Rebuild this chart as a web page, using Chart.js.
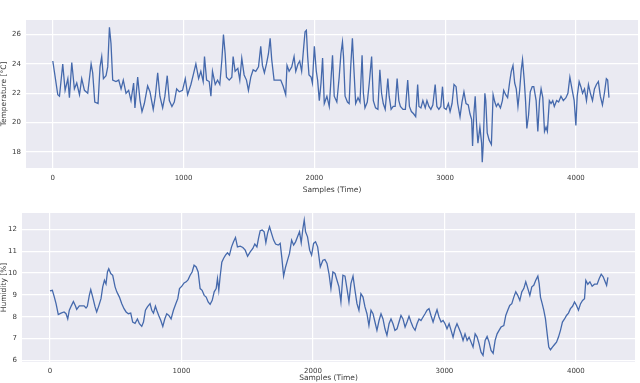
<!DOCTYPE html>
<html>
<head>
<meta charset="utf-8">
<script src="https://cdn.jsdelivr.net/npm/chart.js@4"></script>
<style>
    html, body { margin: 0; padding: 0; background: #fff; }
    body { width: 640px; height: 383px; position: relative; overflow: hidden; }
    canvas { position: absolute; left: 0; }
    #tempChart { top: 0; }
    #humChart { top: 195px; }
</style>
</head>
<body>
<canvas id="tempChart" width="640" height="195"></canvas>
<canvas id="humChart" width="640" height="188"></canvas>
<script>
// Temperature series (sample index, value in °C)
const tempSamples = [0, 38, 51, 76, 94, 115, 127, 145, 165, 183, 204, 221, 242, 267, 293, 305, 321, 346, 361, 374,
    387, 407, 420, 433, 445, 458, 483, 504, 522, 539, 560, 580, 598, 618, 628, 649, 667, 682, 700, 725,
    743, 768, 784, 802, 819, 840, 857, 875, 891, 911, 929, 947, 967, 992, 1013, 1031, 1056, 1074, 1094, 1115,
    1132, 1150, 1160, 1176, 1196, 1209, 1221, 1242, 1260, 1277, 1293, 1305, 1318, 1328, 1349, 1369, 1379, 1394, 1415, 1430,
    1445, 1463, 1481, 1496, 1514, 1532, 1552, 1573, 1590, 1603, 1618, 1634, 1649, 1662, 1674, 1692, 1718, 1743, 1761, 1781,
    1791, 1807, 1827, 1845, 1858, 1875, 1888, 1903, 1919, 1929, 1939, 1949, 1959, 1975, 1985, 2000, 2015, 2025, 2038, 2051,
    2063, 2076, 2096, 2114, 2127, 2139, 2152, 2172, 2190, 2203, 2215, 2223, 2235, 2253, 2266, 2278, 2291, 2304, 2316, 2334,
    2349, 2365, 2375, 2387, 2405, 2420, 2438, 2451, 2468, 2486, 2501, 2514, 2527, 2542, 2562, 2572, 2587, 2603, 2618, 2633,
    2646, 2658, 2678, 2696, 2714, 2727, 2742, 2759, 2775, 2790, 2800, 2815, 2830, 2848, 2861, 2876, 2891, 2906, 2924, 2937,
    2952, 2967, 2980, 2992, 3008, 3025, 3038, 3053, 3068, 3084, 3096, 3114, 3129, 3144, 3160, 3177, 3190, 3203, 3210, 3220,
    3230, 3241, 3251, 3266, 3279, 3284, 3291, 3304, 3311, 3322, 3337, 3354, 3367, 3380, 3392, 3405, 3423, 3438, 3448, 3463,
    3478, 3494, 3506, 3519, 3532, 3544, 3557, 3570, 3582, 3592, 3605, 3615, 3625, 3638, 3651, 3666, 3678, 3696, 3709, 3722,
    3734, 3747, 3760, 3772, 3782, 3797, 3810, 3823, 3835, 3853, 3868, 3886, 3904, 3924, 3939, 3954, 3970, 3987, 4000, 4010,
    4025, 4038, 4051, 4066, 4081, 4096, 4111, 4127, 4142, 4157, 4172, 4187, 4203, 4218, 4233, 4243, 4253];
const tempValues = [24.2, 21.9, 21.8, 24.0, 22.2, 23.0, 21.7, 24.1, 22.3, 22.7, 21.9, 23.0, 22.2, 22.0, 24.0, 23.4, 21.4, 21.3, 23.8, 24.5,
    23.0, 23.2, 23.8, 26.5, 25.4, 22.9, 22.8, 22.9, 22.3, 22.9, 22.0, 22.2, 21.5, 22.7, 21.0, 23.1, 21.5, 20.75, 21.3, 22.5,
    22.1, 20.9, 21.8, 23.4, 21.8, 21.0, 21.8, 23.2, 21.5, 21.1, 21.4, 22.3, 22.1, 22.2, 23.0, 21.9, 22.6, 23.25, 24.0, 23.0,
    23.5, 22.8, 24.5, 22.9, 22.8, 21.8, 23.5, 22.6, 22.9, 22.6, 24.3, 26.0, 24.7, 23.1, 22.9, 23.1, 24.5, 23.5, 23.7, 22.9,
    24.4, 23.25, 22.9, 22.2, 23.1, 23.6, 23.5, 23.8, 25.2, 23.9, 23.4, 24.0, 24.7, 25.75, 24.3, 22.9, 22.9, 22.9, 22.5, 21.9,
    23.9, 23.5, 23.8, 24.5, 23.5, 24.0, 24.2, 23.5, 25.2, 26.2, 26.3, 24.5, 23.25, 23.1, 22.7, 25.2, 23.5, 22.9, 21.5, 22.7,
    24.4, 21.3, 21.8, 21.1, 22.9, 24.6, 21.8, 21.4, 23.1, 24.7, 25.5, 24.5, 21.8, 21.4, 21.3, 23.8, 25.75, 23.4, 21.3, 21.7,
    21.4, 24.6, 22.0, 21.0, 21.4, 22.7, 24.5, 21.5, 21.0, 20.9, 23.6, 22.0, 21.3, 20.9, 23.0, 21.8, 20.9, 21.1, 21.1, 23.0,
    21.5, 21.1, 20.9, 20.9, 22.9, 21.1, 20.75, 20.6, 20.4, 22.6, 21.1, 21.0, 21.5, 21.0, 21.5, 21.1, 20.9, 21.2, 22.6, 21.1,
    20.9, 21.1, 22.45, 21.0, 20.9, 21.3, 20.75, 21.3, 22.6, 22.45, 21.3, 20.4, 21.4, 22.1, 21.3, 21.2, 20.6, 20.2, 18.4, 20.6,
    21.8, 19.8, 18.6, 19.7, 18.6, 17.3, 18.4, 22.0, 21.5, 19.3, 18.8, 18.5, 21.9, 21.4, 21.1, 21.3, 21.0, 21.5, 22.2, 21.9,
    21.7, 22.8, 23.5, 23.9, 22.7, 22.3, 21.1, 22.2, 23.6, 24.3, 22.9, 21.5, 19.6, 20.5, 22.1, 22.45, 22.45, 21.5, 19.4, 21.5,
    22.3, 21.7, 19.4, 19.7, 19.4, 21.5, 21.3, 21.5, 21.1, 21.5, 21.4, 21.8, 21.5, 21.7, 22.0, 23.1, 22.3, 21.5, 19.8, 21.8,
    22.8, 22.45, 22.0, 22.3, 21.5, 22.6, 22.0, 21.5, 22.3, 22.6, 22.8, 21.8, 21.2, 22.0, 23.0, 22.9, 21.7];

// Humidity series (sample index, value)
const humSamples = [0, 18, 33, 46, 63, 84, 107, 122, 135, 147, 162, 178, 193, 203, 223, 241, 259, 274, 284, 299,
    310, 325, 343, 355, 371, 388, 401, 414, 426, 437, 447, 462, 477, 495, 508, 528, 546, 563, 579, 596,
    614, 629, 647, 665, 680, 698, 711, 726, 741, 761, 774, 787, 802, 812, 827, 843, 858, 873, 888, 904,
    921, 939, 957, 972, 985, 1003, 1020, 1036, 1051, 1066, 1081, 1096, 1112, 1127, 1142, 1157, 1173, 1188, 1203, 1218,
    1234, 1249, 1264, 1274, 1284, 1294, 1307, 1320, 1335, 1350, 1365, 1381, 1396, 1411, 1426, 1447, 1467, 1485, 1503, 1523,
    1543, 1558, 1574, 1586, 1599, 1614, 1629, 1642, 1655, 1670, 1685, 1701, 1716, 1736, 1751, 1764, 1777, 1792, 1807, 1822,
    1838, 1853, 1868, 1883, 1898, 1911, 1924, 1934, 1944, 1959, 1975, 1990, 2005, 2020, 2036, 2051, 2056, 2076, 2091, 2107,
    2122, 2137, 2152, 2168, 2183, 2198, 2213, 2228, 2244, 2259, 2274, 2289, 2305, 2320, 2335, 2350, 2365, 2381, 2396, 2411,
    2426, 2442, 2457, 2472, 2487, 2503, 2518, 2533, 2548, 2563, 2579, 2594, 2609, 2624, 2640, 2655, 2670, 2685, 2701, 2716,
    2731, 2746, 2761, 2777, 2792, 2807, 2822, 2838, 2853, 2868, 2883, 2898, 2914, 2929, 2944, 2959, 2975, 2990, 3005, 3020,
    3036, 3051, 3066, 3081, 3096, 3112, 3127, 3142, 3157, 3173, 3188, 3203, 3218, 3234, 3249, 3264, 3279, 3294, 3310, 3325,
    3340, 3355, 3371, 3386, 3401, 3416, 3431, 3452, 3467, 3482, 3497, 3513, 3528, 3543, 3558, 3574, 3589, 3604, 3619, 3635,
    3650, 3665, 3680, 3695, 3711, 3721, 3731, 3744, 3756, 3769, 3782, 3794, 3807, 3822, 3838, 3853, 3868, 3883, 3898, 3914,
    3929, 3944, 3959, 3975, 3990, 4005, 4020, 4036, 4051, 4066, 4076, 4091, 4107, 4124, 4142, 4162, 4178, 4193, 4208, 4223,
    4234, 4244];
const humValues = [9.18, 9.21, 8.9, 8.6, 8.1, 8.17, 8.22, 8.14, 7.9, 8.3, 8.5, 8.7, 8.5, 8.34, 8.5, 8.5, 8.5, 8.4, 8.48, 8.98,
    9.24, 8.9, 8.45, 8.22, 8.5, 8.83, 9.37, 9.67, 9.5, 10.05, 10.2, 9.98, 9.9, 9.37, 9.14, 8.9, 8.6, 8.37, 8.22, 8.14,
    8.17, 7.76, 7.7, 7.9, 7.68, 7.56, 7.76, 8.3, 8.45, 8.6, 8.3, 8.17, 8.48, 8.3, 8.06, 7.83, 7.56, 7.9, 8.14, 8.06,
    7.9, 8.3, 8.6, 8.83, 9.29, 9.4, 9.55, 9.6, 9.7, 9.9, 10.05, 10.36, 10.28, 10.05, 9.29, 9.21, 8.98, 8.9, 8.68, 8.57,
    8.75, 9.14, 9.29, 9.75, 9.21, 9.83, 10.5, 10.67, 10.82, 10.93, 10.82, 11.2, 11.43, 11.63, 11.2, 11.23, 11.17, 11.05, 10.77, 10.97,
    11.13, 11.33, 11.2, 11.59, 11.94, 11.97, 11.89, 11.39, 11.82, 12.12, 11.82, 11.51, 11.33, 11.28, 11.36, 10.67, 9.86, 10.28, 10.59, 10.9,
    11.51, 11.28, 11.43, 11.66, 11.89, 11.39, 12.05, 12.43, 11.89, 11.66, 11.05, 10.82, 11.36, 11.43, 11.2, 10.51, 10.28, 10.59, 10.62, 10.44,
    9.98, 9.29, 10.05, 9.98, 9.67, 9.37, 8.68, 9.9, 9.86, 9.29, 8.68, 9.52, 9.86, 9.21, 8.6, 8.3, 9.06, 8.9, 8.45, 8.14,
    7.6, 8.3, 8.14, 7.76, 7.38, 7.83, 8.14, 7.9, 7.45, 7.15, 7.68, 7.9, 7.68, 7.38, 7.45, 7.76, 8.06, 7.9, 7.53, 7.76,
    8.02, 7.76, 7.53, 7.38, 7.68, 7.9, 7.83, 7.99, 8.14, 8.3, 8.37, 8.06, 7.76, 8.06, 8.32, 7.99, 7.76, 7.83, 7.68, 7.45,
    7.68, 7.38, 7.07, 7.45, 7.68, 7.45, 7.22, 6.92, 7.22, 6.92, 7.07, 6.84, 6.61, 7.22, 7.07, 6.76, 6.38, 6.23, 6.92, 7.1,
    6.84, 6.46, 6.33, 6.92, 7.22, 7.38, 7.53, 7.6, 8.06, 8.3, 8.52, 8.6, 8.9, 9.14, 8.98, 8.75, 9.14, 9.29, 9.6, 9.29,
    8.98, 9.37, 9.44, 9.67, 9.86, 9.52, 8.9, 8.6, 8.3, 7.9, 7.22, 6.61, 6.49, 6.61, 6.73, 6.84, 7.07, 7.38, 7.76, 7.9,
    8.06, 8.17, 8.37, 8.48, 8.68, 8.52, 8.3, 8.6, 8.75, 8.83, 9.67, 9.49, 9.6, 9.4, 9.49, 9.49, 9.75, 9.95, 9.83, 9.6,
    9.44, 9.8];

// Tick labels
const xTicks = [0, 1000, 2000, 3000, 4000];
const tempTicks = [18, 20, 22, 24, 26];
const humTicks = [6, 7, 8, 9, 10, 11, 12];

const LINE_COLOR = '#4569AC';
const PLOT_BG = '#EAEAF2';
const TEXT_COLOR = '#3a3a3a';
const FONT = 'DejaVu Sans';

// seaborn-like grey plot background
const plotBackground = {
    id: 'plotBackground',
    beforeDraw(chart) {
        const { ctx, chartArea: a } = chart;
        ctx.save();
        ctx.fillStyle = PLOT_BG;
        ctx.fillRect(a.left, a.top, a.right - a.left, a.bottom - a.top);
        ctx.restore();
    }
};

function toPoints(xs, ys) {
    return xs.map((x, i) => ({ x: x, y: ys[i] }));
}

function makeChart(canvasId, opts) {
    return new Chart(document.getElementById(canvasId), {
        type: 'line',
        data: {
            datasets: [{
                data: toPoints(opts.samples, opts.values),
                borderColor: LINE_COLOR,
                borderWidth: 1.3,
                pointRadius: 0,
                tension: 0,
                fill: false
            }]
        },
        options: {
            responsive: false,
            animation: false,
            layout: { padding: opts.padding },
            plugins: { legend: { display: false }, tooltip: { enabled: false } },
            scales: {
                x: {
                    type: 'linear',
                    min: opts.xMin,
                    max: opts.xMax,
                    afterBuildTicks: (scale) => { scale.ticks = xTicks.map(v => ({ value: v })); },
                    afterFit: (scale) => { scale.height = opts.xHeight; },
                    border: { display: false },
                    grid: { color: '#ffffff', lineWidth: 1.2, drawTicks: false },
                    ticks: {
                        color: TEXT_COLOR,
                        font: { family: FONT, size: 7 },
                        padding: opts.xTickPad,
                        maxRotation: 0,
                        callback: (v) => String(v)
                    },
                    title: {
                        display: true,
                        text: 'Samples (Time)',
                        color: TEXT_COLOR,
                        font: { family: FONT, size: 7.5 },
                        padding: { top: 1, bottom: 0 }
                    }
                },
                y: {
                    min: opts.yMin,
                    max: opts.yMax,
                    afterBuildTicks: (scale) => { scale.ticks = opts.yTicks.map(v => ({ value: v })); },
                    afterFit: (scale) => { scale.width = opts.yWidth; },
                    border: { display: false },
                    grid: { color: '#ffffff', lineWidth: 1.2, drawTicks: false },
                    ticks: {
                        color: TEXT_COLOR,
                        font: { family: FONT, size: 7 },
                        padding: 5,
                        callback: (v) => String(v)
                    },
                    title: {
                        display: true,
                        text: opts.yTitle,
                        color: TEXT_COLOR,
                        font: { family: FONT, size: 7.5 },
                        padding: { top: 0, bottom: 0 }
                    }
                }
            }
        },
        plugins: [plotBackground]
    });
}

makeChart('tempChart', {
    samples: tempSamples,
    values: tempValues,
    xMin: -205, xMax: 4475,
    yMin: 16.9, yMax: 27.0,
    yTicks: tempTicks,
    yTitle: 'Temperature [°C]',
    yWidth: 26,
    xHeight: 27,
    xTickPad: 6,
    padding: { top: 20, right: 2, bottom: 0, left: 0 }
});

makeChart('humChart', {
    samples: humSamples,
    values: humValues,
    xMin: -213, xMax: 4450,
    yMin: 5.93, yMax: 12.75,
    yTicks: humTicks,
    yTitle: 'Humidity [%]',
    yWidth: 22,
    xHeight: 21,
    xTickPad: 5,
    padding: { top: 18, right: 5, bottom: 0, left: 0 }
});
</script>
</body>
</html>
